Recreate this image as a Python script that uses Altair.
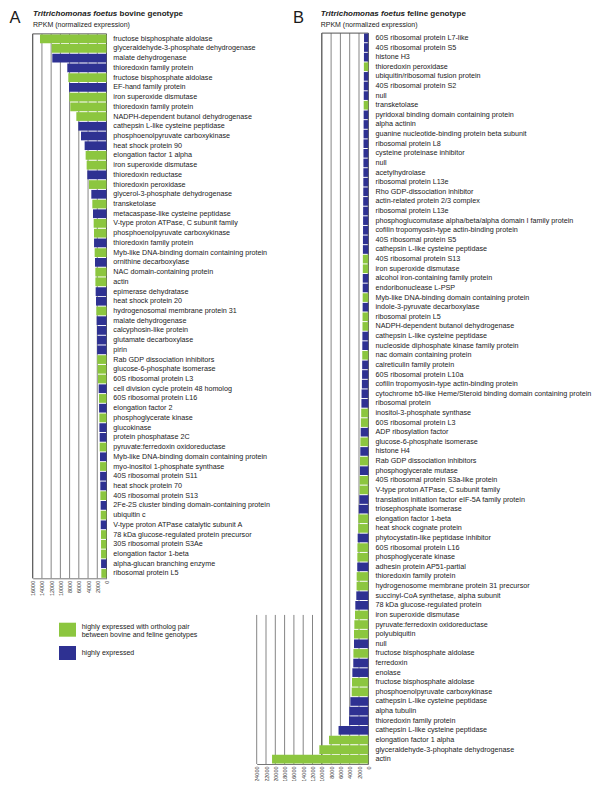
import altair as alt
import pandas as pd

GREEN = "#8cc63f"
BLUE = "#2e3192"
FONT = "Liberation Sans"

# ---------------- Panel A: bovine genotype ----------------
a_names = [
    "fructose bisphosphate aldolase", "glyceraldehyde-3-phosphate dehydrogenase", "malate dehydrogenase",
    "thioredoxin family protein", "fructose bisphosphate aldolase", "EF-hand family protein",
    "iron superoxide dismutase", "thioredoxin family protein", "NADPH-dependent butanol dehydrogenase",
    "cathepsin L-like cysteine peptidase", "phosphoenolpyruvate carboxykinase", "heat shock protein 90",
    "elongation factor 1 alpha", "iron superoxide dismutase", "thioredoxin reductase",
    "thioredoxin peroxidase", "glycerol-3-phosphate dehydrogenase", "transketolase",
    "metacaspase-like cysteine peptidase", "V-type proton ATPase, C subunit family",
    "phosphoenolpyruvate carboxykinase", "thioredoxin family protein",
    "Myb-like DNA-binding domain containing protein", "ornithine decarboxylase",
    "NAC domain-containing protein", "actin", "epimerase dehydratase", "heat shock protein 20",
    "hydrogenosomal membrane protein 31", "malate dehydrogenase", "calcyphosin-like protein",
    "glutamate decarboxylase", "pirin", "Rab GDP dissociation inhibitors", "glucose-6-phosphate isomerase",
    "60S ribosomal protein L3", "cell division cycle protein 48 homolog", "60S ribosomal protein L16",
    "elongation factor 2", "phosphoglycerate kinase", "glucokinase", "protein phosphatase 2C",
    "pyruvate:ferredoxin oxidoreductase", "Myb-like DNA-binding domain containing protein",
    "myo-inositol 1-phosphate synthase", "40S ribosomal protein S11", "heat shock protein 70",
    "40S ribosomal protein S13", "2Fe-2S cluster binding domain-containing protein", "ubiquitin c",
    "V-type proton ATPase catalytic subunit A", "78 kDa glucose-regulated protein precursor",
    "30S ribosomal protein S3Ae", "elongation factor 1-beta", "alpha-glucan branching enzyme",
    "ribosomal protein L5",
]
a_values = [
    14420, 11890, 11750, 8500, 8280, 8130, 8060, 7850, 6540, 6110,
    5530, 4740, 4520, 4300, 4160, 3800, 3290, 3070, 2930, 2780,
    2710, 2700, 2570, 2490, 2420, 2410, 2350, 2280, 2200, 2130,
    2060, 2050, 2040, 1990, 1920, 1840, 1700, 1630, 1610, 1550,
    1540, 1480, 1470, 1410, 1400, 1390, 1340, 1330, 1270, 1255,
    1250, 1190, 1185, 1180, 1175, 1120,
]
a_kinds = list("GGBBGBGGGB" "BBGGBGBGBG" "GBGBGGBBGB" "BBBGGGBGBG" "BBGBGBBGBG" "BGGGBG")
a_ticks = [0, 2000, 4000, 6000, 8000, 10000, 12000, 14000, 16000]

# ---------------- Panel B: feline genotype ----------------
b_names = [
    "60S ribosomal protein L7-like", "40S ribosomal protein S5", "histone H3", "thioredoxin peroxidase",
    "ubiquitin/ribosomal fusion protein", "40S ribosomal protein S2", "null", "transketolase",
    "pyridoxal binding domain containing protein", "alpha actinin",
    "guanine nucleotide-binding protein beta subunit", "ribosomal protein L8",
    "cysteine proteinase inhibitor", "null", "acetylhydrolase", "ribosomal protein L13e",
    "Rho GDP-dissociation inhibitor", "actin-related protein 2/3 complex", "ribosomal protein L13e",
    "phosphoglucomutase alpha/beta/alpha domain I family protein",
    "cofilin tropomyosin-type actin-binding protein", "40S ribosomal protein S5",
    "cathepsin L-like cysteine peptidase", "40S ribosomal protein S13", "iron superoxide dismutase",
    "alcohol iron-containing family protein", "endoribonuclease L-PSP",
    "Myb-like DNA-binding domain containing protein", "indole-3-pyruvate decarboxylase",
    "ribosomal protein L5", "NADPH-dependent butanol dehydrogenase", "cathepsin L-like cysteine peptidase",
    "nucleoside diphosphate kinase family protein", "nac domain containing protein",
    "calreticulin family protein", "60S ribosomal protein L10a",
    "cofilin tropomyosin-type actin-binding protein",
    "cytochrome b5-like Heme/Steroid binding domain containing protein", "ribosomal protein",
    "inositol-3-phosphate synthase", "60S ribosomal protein L3", "ADP ribosylation factor",
    "glucose-6-phosphate isomerase", "histone H4", "Rab GDP dissociation inhibitors",
    "phosphoglycerate mutase", "40S ribosomal protein S3a-like protein",
    "V-type proton ATPase, C subunit family", "translation initiation factor eIF-5A family protein",
    "triosephosphate isomerase", "elongation factor 1-beta", "heat shock cognate protein",
    "phytocystatin-like peptidase inhibitor", "60S ribosomal protein L16", "phosphoglycerate kinase",
    "adhesin protein AP51-partial", "thioredoxin family protein",
    "hydrogenosome membrane protein 31 precursor", "succinyl-CoA synthetase, alpha subunit",
    "78 kDa glucose-regulated protein", "iron superoxide dismutase", "pyruvate:ferredoxin oxidoreductase",
    "polyubiquitin", "null", "fructose bisphosphate aldolase", "ferredoxin", "enolase",
    "fructose bisphosphate aldolase", "phosphoenolpyruvate carboxykinase",
    "cathepsin L-like cysteine peptidase", "alpha tubulin", "thioredoxin family protein",
    "cathepsin L-like cysteine peptidase", "elongation factor 1 alpha",
    "glyceraldehyde-3-phophate dehydrogenase", "actin",
]
b_values = [
    920, 930, 940, 950, 960, 970, 980, 990, 1000, 1010,
    1020, 1030, 1040, 1050, 1060, 1070, 1080, 1100, 1110, 1120,
    1130, 1150, 1160, 1170, 1180, 1190, 1200, 1210, 1220, 1240,
    1250, 1270, 1290, 1300, 1320, 1340, 1380, 1450, 1480, 1530,
    1600, 1640, 1700, 1720, 1780, 1800, 1850, 1870, 1930, 2050,
    2140, 2160, 2290, 2340, 2360, 2380, 2500, 2520, 2580, 2790,
    2860, 3000, 3070, 3080, 3200, 3230, 3430, 3500, 3570, 3860,
    4080, 4150, 6400, 8450, 10530, 20700,
]
b_kinds = list("BBBGBBBGBB" "BBBBBBBBBB" "BBBGGBBGBG" "GBBGBBBBBG" "GBGBGBGGBB"
               "GGBGGBGGBB" "GGGBGBBGGB" "BBBGGG")
b_ticks = [0, 2000, 4000, 6000, 8000, 10000, 12000, 14000, 16000, 18000, 20000, 22000, 24000]
b_upper_ticks = [0, 2000, 4000, 6000, 8000, 10000]
b_lower_ticks = [12000, 14000, 16000, 18000, 20000, 22000, 24000]

legend_labels = [["highly expressed with ortholog pair", "between bovine and feline genotypes"],
                 ["highly expressed"]]

dfA = pd.DataFrame({"row": list(range(1, len(a_names) + 1)), "name": a_names,
                    "value": a_values, "kind": a_kinds})
dfB = pd.DataFrame({"row": list(range(1, len(b_names) + 1)), "name": b_names,
                    "value": b_values, "kind": b_kinds})

W, H = 584, 773
LABEL_SIZE = 7.2
color = alt.Color("kind:N", scale=alt.Scale(domain=["G", "B"], range=[GREEN, BLUE]), legend=None)


def panel(df, ticks, x_range, y_range, axis_offset, full_ticks, lower_ticks, lower_start, label_x):
    xmax = max(ticks)
    top_max = max(full_ticks)
    xscale = alt.Scale(domain=[0, xmax], range=x_range, nice=False, zero=True)
    axis = alt.Axis(values=ticks, title=None, grid=False, orient="bottom", labelAngle=270,
                    labelFontSize=5.5, labelFont=FONT, labelColor="#333333", domainColor="#777777",
                    domainWidth=1, ticks=False, labelPadding=2, offset=axis_offset, format="d")
    yscale = alt.Scale(range=y_range, paddingInner=0.1, paddingOuter=0.05)

    def X(field):
        return alt.X(f"{field}:Q", scale=xscale, axis=axis)

    y_enc = alt.Y("row:O", scale=yscale, axis=None)

    grid_full = alt.Chart(pd.DataFrame({"t": full_ticks})).mark_rule(
        color="#858585", strokeWidth=1).encode(
        x=X("t"), y=alt.value(y_range[0]), y2=alt.value(y_range[1]))
    layers = [grid_full]
    if lower_ticks:
        grid_low = alt.Chart(pd.DataFrame({"t": lower_ticks})).mark_rule(
            color="#858585", strokeWidth=1).encode(
            x=X("t"), y=alt.value(lower_start), y2=alt.value(y_range[1]))
        layers.append(grid_low)
    border = alt.Chart(pd.DataFrame({"a": [top_max], "b": [0]})).mark_rule(
        color="#555555", strokeWidth=1).encode(
        x=X("a"), x2=alt.X2("b:Q"), y=alt.value(y_range[0]))
    edge = alt.Chart(pd.DataFrame({"t": [top_max, 0]})).mark_rule(
        color="#555555", strokeWidth=1).encode(
        x=X("t"), y=alt.value(y_range[0]), y2=alt.value(y_range[1]))
    bars = alt.Chart(df).mark_bar().encode(x=X("value"), y=y_enc, color=color)
    labels = alt.Chart(df).mark_text(align="left", baseline="middle", fontSize=LABEL_SIZE, font=FONT,
                                     color="#1a1a1a").encode(
        x=alt.value(label_x), y=y_enc, text="name:N")
    layers += [border, edge, bars, labels]
    return alt.layer(*layers)


B_TOP, B_BOTTOM = 25.1, 756.0
b_step = (B_BOTTOM - B_TOP) / len(b_names)

panelA = panel(dfA, a_ticks, [98.5, 24.7], [25.9, 570.3], 570.3 - H,
               a_ticks, [], None, 105.3)
panelB = panel(dfB, b_ticks, [360.3, 248.7], [B_TOP, B_BOTTOM], B_BOTTOM - H,
               b_upper_ticks, b_lower_ticks, B_TOP + 60.5 * b_step, 367.5)

dummy = pd.DataFrame({"d": [0]})


def text(t, x, y, size, weight="normal", style="normal", baseline="alphabetic"):
    return alt.Chart(dummy).mark_text(text=t, fontSize=size, fontWeight=weight, fontStyle=style,
                                      align="left", baseline=baseline, font=FONT,
                                      color="#1a1a1a").encode(x=alt.value(x), y=alt.value(y))


def swatch(c, y0, y1):
    return alt.Chart(dummy).mark_rect(color=c).encode(
        x=alt.value(51), x2=alt.value(68), y=alt.value(y0), y2=alt.value(y1))


deco = [
    text("A", 1.5, 2, 16.5, baseline="top"),
    text("Tritrichomonas foetus", 25, 7.5, 8, "bold", "italic"),
    text("bovine genotype", 111.5, 7.5, 8, "bold"),
    text("RPKM (normalized expression)", 25, 18.5, 7),
    text("B", 285, 2, 16.5, baseline="top"),
    text("Tritrichomonas foetus", 312.7, 7.5, 8, "bold", "italic"),
    text("feline genotype", 399.2, 7.5, 8, "bold"),
    text("RPKM (normalized expression)", 312.7, 18.5, 7),
    swatch(GREEN, 614.7, 628.7),
    swatch(BLUE, 638, 652),
    text(legend_labels[0][0], 73.7, 620.5, 7),
    text(legend_labels[0][1], 73.7, 628.5, 7),
    text(legend_labels[1][0], 73.7, 647.2, 7),
]

chart = alt.layer(panelA, panelB, *deco).resolve_scale(
    x="independent", y="independent"
).properties(
    width=W, height=H, padding=0, autosize=alt.AutoSizeParams(type="none"),
    background="white"
).configure_view(stroke=None)

chart.save("out.html", embed_options={"renderer": "svg", "actions": False})
